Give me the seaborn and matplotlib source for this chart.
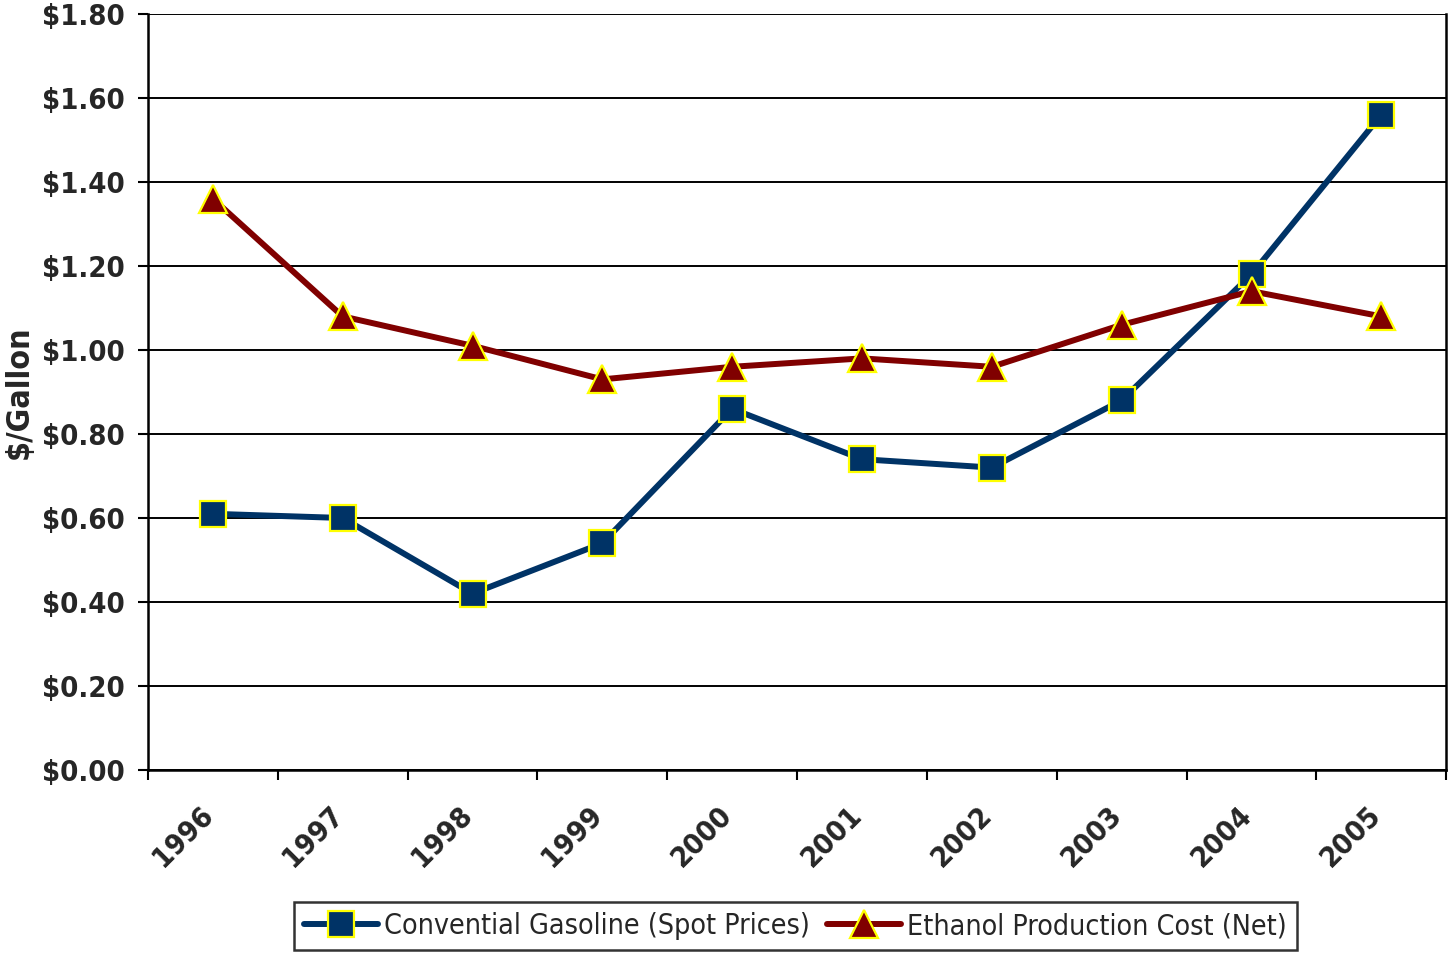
import matplotlib
matplotlib.use('Agg')
import matplotlib.pyplot as plt
import matplotlib.transforms as mtransforms
from matplotlib import font_manager
import seaborn as sns
import pandas as pd

years = ['1996', '1997', '1998', '1999', '2000', '2001', '2002', '2003', '2004', '2005']
gasoline = [0.61, 0.60, 0.42, 0.54, 0.86, 0.74, 0.72, 0.88, 1.18, 1.56]
ethanol = [1.36, 1.08, 1.01, 0.93, 0.96, 0.98, 0.96, 1.06, 1.14, 1.08]
y_ticks = [0.0, 0.2, 0.4, 0.6, 0.8, 1.0, 1.2, 1.4, 1.6, 1.8]

sns.set_style('white')

# pick a narrow font if one is around
names = set(f.name for f in font_manager.fontManager.ttflist)
condensed = [f for f in font_manager.fontManager.ttflist if f.stretch in ('condensed', 'semi-condensed')]
if 'DejaVu Sans' in [f.name for f in condensed]:
    plt.rcParams['font.family'] = ['DejaVu Sans']
    plt.rcParams['font.stretch'] = 'condensed'
else:
    fam = 'Roboto' if 'Roboto' in names else 'DejaVu Sans'
    plt.rcParams['font.family'] = [fam, 'DejaVu Sans']

df = pd.DataFrame({'x': range(len(years)), 'gas': gasoline, 'eth': ethanol})

fig = plt.figure(figsize=(14.49, 9.57), dpi=100)
ax = fig.add_axes([0.1021, 0.1954, 0.896, 0.7900])

sns.lineplot(data=df, x='x', y='gas', ax=ax, color='#003366', lw=4.3,
             marker='s', markersize=18.5, markerfacecolor='#003366',
             markeredgecolor='#FFFF00', markeredgewidth=1.6,
             label='Convential Gasoline (Spot Prices)')
sns.lineplot(data=df, x='x', y='eth', ax=ax, color='#800000', lw=4.3,
             marker='^', markersize=20.5, markerfacecolor='#800000',
             markeredgecolor='#FFFF00', markeredgewidth=1.6,
             label='Ethanol Production Cost (Net)')

ax.set_xlim(-0.5, len(years) - 0.5)
ax.set_ylim(0, 1.8)
ax.set_yticks(y_ticks)
ax.set_yticklabels(['${:.2f}'.format(v) for v in y_ticks], fontsize=21, fontweight='bold')
ax.yaxis.grid(True, color='black', lw=1.4)
ax.set_axisbelow(True)

# ticks between categories, labels at category centres
ax.set_xticks([i - 0.5 for i in range(len(years) + 1)])
ax.set_xticklabels([])
ax.set_xticks(range(len(years)), minor=True)
ax.set_xticklabels(years, minor=True, rotation=45, ha='right',
                   rotation_mode='anchor', fontsize=21, fontweight='bold')
ax.tick_params(axis='x', which='major', direction='out', length=7, width=1.5, color='black', bottom=True)
ax.tick_params(axis='x', which='minor', length=0, pad=22)
ax.tick_params(axis='y', direction='out', length=7, width=1.5, color='black', left=True, pad=10)

# nudge year labels a bit to the left (after tick_params, which resets transforms)
offset = mtransforms.ScaledTranslation(-14 / 100, 0, fig.dpi_scale_trans)
for lab in ax.get_xticklabels(minor=True):
    lab.set_transform(lab.get_transform() + offset)

for side in ['left', 'right', 'bottom']:
    ax.spines[side].set_color('black')
    ax.spines[side].set_linewidth(1.8)
ax.spines['top'].set_visible(False)

ax.set_xlabel('')
ax.set_ylabel('$/Gallon', fontsize=23, fontweight='bold')
ax.yaxis.set_label_coords(-0.087, 0.5)

leg = ax.legend(loc='center', bbox_to_anchor=(0.549, 0.032), bbox_transform=fig.transFigure,
                ncol=2, fontsize=20.5, frameon=True, fancybox=False, handlelength=2.6,
                columnspacing=0.6, handletextpad=0.2, borderpad=0.35)
leg.get_frame().set_edgecolor('black')
leg.get_frame().set_linewidth(1.8)

fig.savefig('out.png', dpi=100)
